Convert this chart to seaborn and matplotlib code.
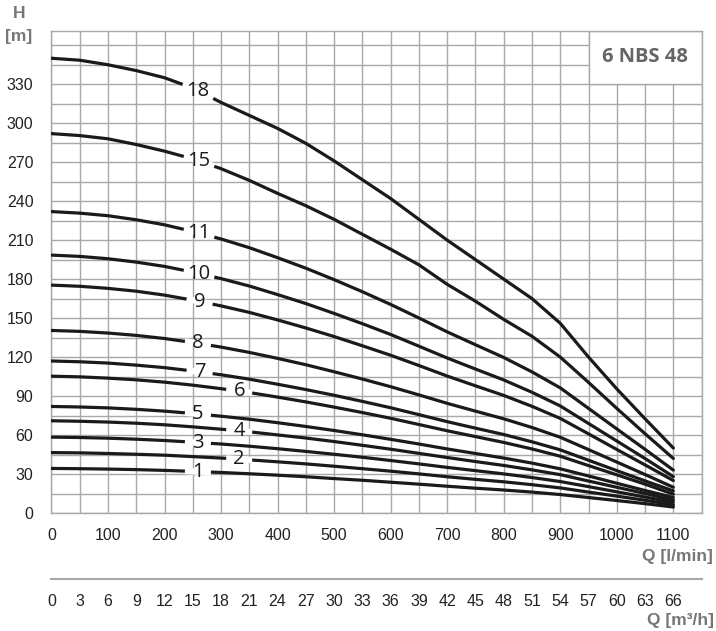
import numpy as np
import pandas as pd
import matplotlib
matplotlib.use("Agg")
import matplotlib.pyplot as plt
from matplotlib import font_manager
import seaborn as sns

flow = [0, 50, 100, 150, 200, 250, 300, 350, 400, 450, 500, 550,
        600, 650, 700, 750, 800, 850, 900, 950, 1000, 1050, 1100]

# Head (m) per number of stages
head_18 = [350, 348.5, 345, 340.5, 335, 327, 316, 306, 296, 284.5, 271, 256.5,
           242, 226, 210, 195, 180, 165, 146, 120, 95.5, 72.5, 50]
head_15 = [292, 290.5, 288, 283.6, 278.5, 272.5, 265, 256, 246, 236.5, 226, 214.5,
           203, 191, 176, 163, 149, 136, 120, 100.5, 80.5, 61, 42]
head_11 = [232, 230.8, 228.8, 225.7, 221.8, 216.7, 210.9, 204.2, 196.5, 188.4, 179.6, 170.3,
           160.5, 150.1, 139.4, 129.5, 119.7, 108.6, 96.3, 80.5, 64.7, 49, 33]
head_10 = [198.5, 197.5, 195.7, 193.1, 189.8, 185.4, 180.4, 174.7, 168.1, 161.2, 153.6, 145.7,
           137.4, 128.4, 119.3, 110.8, 102.4, 92.9, 82.4, 68.9, 55.4, 41.9, 28]
head_9 = [175.4, 174.5, 172.9, 170.7, 167.7, 163.8, 159.4, 154.4, 148.6, 142.4, 135.8, 128.7,
          121.4, 113.5, 105.4, 97.9, 90.5, 82.1, 72.8, 60.9, 48.9, 37, 25]
head_8 = [140.5, 139.8, 138.5, 136.7, 134.3, 131.2, 127.7, 123.6, 119, 114.1, 108.7, 103.1,
          97.2, 90.9, 84.4, 78.4, 72.5, 65.8, 58.3, 48.8, 39.2, 29.6, 19.8]
head_7 = [117, 116.4, 115.4, 113.8, 111.9, 109.3, 106.4, 103, 99.1, 95, 90.6, 85.9,
          81, 75.7, 70.3, 65.3, 60.4, 54.8, 48.6, 40.6, 32.6, 24.7, 17]
head_6 = [105.3, 104.8, 103.8, 102.5, 100.7, 98.4, 95.7, 92.7, 89.2, 85.5, 81.5, 77.3,
          72.9, 68.1, 63.3, 58.8, 54.3, 49.3, 43.7, 36.5, 29.4, 22.2, 14.5]
head_5 = [82, 81.6, 80.9, 79.8, 78.4, 76.6, 74.5, 72.2, 69.5, 66.6, 63.5, 60.2,
          56.7, 53.1, 49.3, 45.8, 42.3, 38.4, 34, 28.5, 22.9, 17.3, 12]
head_4 = [71, 70.6, 70, 69.1, 67.9, 66.3, 64.5, 62.5, 60.1, 57.7, 55, 52.1,
          49.1, 45.9, 42.7, 39.6, 36.6, 33.2, 29.5, 24.6, 19.8, 15, 10]
head_3 = [58.4, 58.1, 57.6, 56.8, 55.8, 54.5, 53.1, 51.4, 49.5, 47.4, 45.2, 42.9,
          40.4, 37.8, 35.1, 32.6, 30.1, 27.3, 24.2, 20.3, 16.3, 12.3, 8.2]
head_2 = [46.5, 46.3, 45.8, 45.2, 44.5, 43.4, 42.3, 40.9, 39.4, 37.8, 36, 34.1,
          32.2, 30.1, 27.9, 25.9, 24, 21.8, 19.3, 16.1, 13, 9.8, 6.3]
head_1 = [34.3, 34.1, 33.8, 33.4, 32.8, 32, 31.2, 30.2, 29.1, 27.9, 26.5, 25.2,
          23.7, 22.2, 20.6, 19.1, 17.7, 16.1, 14.2, 11.9, 9.6, 7.2, 4.6]

curves = {18: head_18, 15: head_15, 11: head_11, 10: head_10, 9: head_9,
          8: head_8, 7: head_7, 6: head_6, 5: head_5, 4: head_4, 3: head_3,
          2: head_2, 1: head_1}

# where the stage number sits on each curve (l/min)
label_q = {18: 259, 15: 261, 11: 261, 10: 261, 9: 262, 8: 259, 7: 262,
           6: 332, 5: 259, 4: 332, 3: 259, 2: 332, 1: 259}

y_ticks = list(range(0, 331, 30))
q_ticks = list(range(0, 1101, 100))
m3h_ticks = list(range(0, 67, 3))

rows = []
for stages, h in curves.items():
    for qi, hi in zip(flow, h):
        rows.append({"Q": qi, "H": hi, "Stages": str(stages)})
df = pd.DataFrame(rows)

sns.set_style("white")
plt.rcParams["font.family"] = ["Liberation Sans", "DejaVu Sans"]

# narrow font for the tick numbers if there is one
names = {f.name for f in font_manager.fontManager.ttflist}
if "Liberation Sans Narrow" in names:
    tick_font, tick_size, tick_size2 = "Liberation Sans Narrow", 13, 14
else:
    tick_font, tick_size, tick_size2 = "Liberation Sans", 11.5, 11.5

grid_col = "#a8a8a8"
fig = plt.figure(figsize=(7.16, 6.31), dpi=100)
ax = fig.add_axes([0.0719, 0.187, 0.908, 0.7639])

sns.lineplot(data=df, x="Q", y="H", hue="Stages", units="Stages",
             estimator=None, sort=False, palette=["#1a1a1a"] * len(curves),
             linewidth=2.3, legend=False, ax=ax, zorder=3)

# cut a gap in each curve and put the stage number in it
for stages, h in curves.items():
    lq = label_q[stages]
    dq = 27 if stages >= 10 else 23
    qs = np.linspace(lq - dq, lq + dq, 12)
    ax.plot(qs, np.interp(qs, flow, h), color="white", linewidth=4.5,
            solid_capstyle="butt", zorder=3.5)
    ax.text(lq, np.interp(lq, flow, h), str(stages), ha="center", va="center",
            fontsize=14.5, family=["Open Sans", "DejaVu Sans"], color="#1a1a1a",
            zorder=4)

ax.set_xlim(0, 1150)
ax.set_ylim(0, 371)
ax.set_xticks(q_ticks)
ax.set_xticks(range(50, 1151, 50), minor=True)
ax.set_yticks(y_ticks)
ax.set_yticks(range(15, 371, 15), minor=True)
ax.grid(which="both", color=grid_col, linewidth=1.0, zorder=0)
ax.set_axisbelow(True)
ax.tick_params(axis="both", which="major", direction="out", length=6,
               width=1, color=grid_col, labelsize=tick_size, labelcolor="#222222")
ax.tick_params(axis="x", which="major", pad=5)
ax.tick_params(axis="y", which="major", pad=7)
ax.tick_params(which="minor", length=0)
for lab in ax.get_xticklabels() + ax.get_yticklabels():
    lab.set_family(tick_font)
for s in ax.spines.values():
    s.set_color(grid_col)
    s.set_linewidth(1.0)
ax.set_xlabel("")
ax.set_ylabel("")

# model name box in the top right corner
ax.add_patch(plt.Rectangle((950, 330), 200, 41, fc="white", ec=grid_col,
                           lw=1.0, zorder=2))
ax.text(1050, 351, "6 NBS 48", ha="center", va="center", fontsize=14.5,
        fontweight="bold", color="#666666", family=["Open Sans", "DejaVu Sans"],
        zorder=5)

# axis titles
title_kw = dict(fontsize=12.5, fontweight="bold", color="#777777",
                family=["Liberation Sans", "DejaVu Sans"])
fig.text(19 / 716, 1 - 14 / 631, "H", ha="center", va="center", **title_kw)
fig.text(19 / 716, 1 - 36 / 631, "[m]", ha="center", va="center", **title_kw)
fig.text(713 / 716, 1 - 556 / 631, "Q [l/min]", ha="right", va="center", **title_kw)
fig.text(714 / 716, 1 - 621 / 631, "Q [m³/h]", ha="right", va="center", **title_kw)

# second flow scale in m3/h
ax2 = fig.add_axes([0.0719, 1 - 579 / 631, 0.908, 0.0001])
ax2.set_xlim(0, 69)
ax2.set_xticks(m3h_ticks)
ax2.set_yticks([])
for side in ["top", "left", "right"]:
    ax2.spines[side].set_visible(False)
ax2.spines["bottom"].set_color(grid_col)
ax2.spines["bottom"].set_linewidth(1.5)
ax2.tick_params(axis="x", direction="out", length=6, width=1, color=grid_col,
                labelsize=tick_size2, labelcolor="#222222", pad=5)
for lab in ax2.get_xticklabels():
    lab.set_family(tick_font)
ax2.patch.set_alpha(0)

fig.savefig("out.png", dpi=100)
